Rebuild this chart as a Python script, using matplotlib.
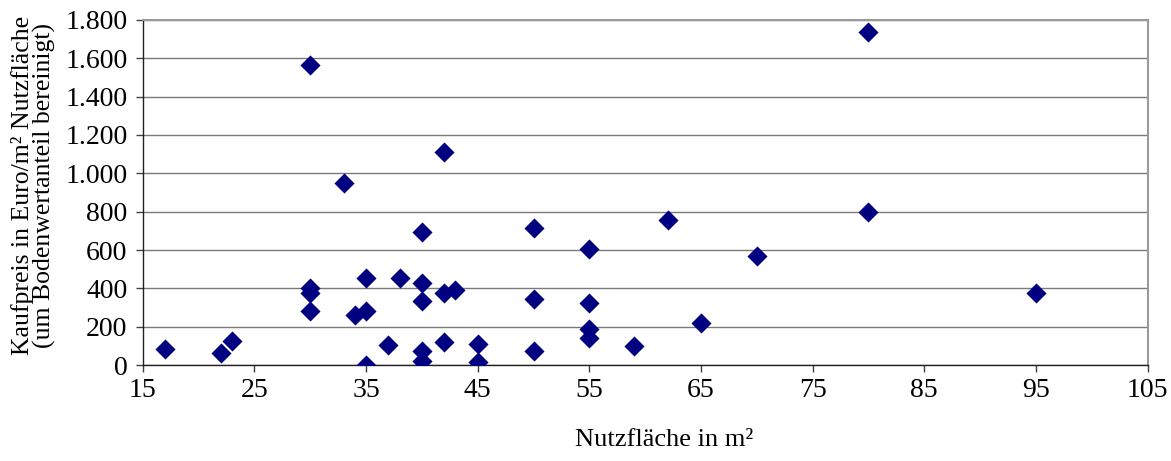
import matplotlib
matplotlib.use("Agg")
import matplotlib.pyplot as plt
from matplotlib.ticker import FuncFormatter

# Nutzfläche (m²) and Kaufpreis (Euro/m²)
flaeche = [17, 22, 23, 30, 30, 30, 30, 33, 34, 35, 35, 35, 37, 38,
           40, 40, 40, 40, 40, 42, 42, 42, 43, 45, 45,
           50, 50, 50, 55, 55, 55, 55, 59, 62, 65, 70, 80, 80, 95]
preis = [84, 64, 127, 1565, 400, 374, 283, 951, 261, 456, 280, 0, 104, 452,
         696, 426, 332, 73, 21, 1110, 377, 118, 391, 108, 17,
         717, 343, 73, 603, 325, 188, 139, 99, 757, 221, 569, 1736, 797, 377]

x_ticks = list(range(15, 106, 10))
y_ticks = list(range(0, 1801, 200))


def de_thousands(v, _pos):
    return f"{int(v):,}".replace(",", ".")


def main():
    plt.rcParams["font.family"] = ["Liberation Serif", "DejaVu Serif"]

    fig = plt.figure(figsize=(11.71, 4.61), dpi=100)
    ax = fig.add_axes([0.122, 0.208, 0.858, 0.749])

    ax.scatter(flaeche, preis, marker="D", s=105, color="#000080",
               zorder=3, linewidths=0)

    ax.set_xlim(15, 105)
    ax.set_ylim(0, 1800)
    ax.set_xticks(x_ticks)
    ax.set_yticks(y_ticks)
    ax.yaxis.set_major_formatter(FuncFormatter(de_thousands))
    ax.tick_params(axis="both", labelsize=20, direction="out", length=5,
                   width=1, color="#404040")
    ax.tick_params(axis="x", pad=4)
    ax.tick_params(axis="y", pad=6)

    ax.grid(axis="y", color="#7a7a7a", linewidth=1)
    ax.set_axisbelow(True)
    for side in ("top", "right"):
        ax.spines[side].set_color("#9a9a9a")
        ax.spines[side].set_linewidth(1.5)
    for side in ("left", "bottom"):
        ax.spines[side].set_color("#202020")
        ax.spines[side].set_linewidth(1)

    ax.set_xlabel("Nutzfläche in m²", fontsize=19, va="center")
    ax.xaxis.set_label_coords(0.519, -0.217)
    ax.set_ylabel("Kaufpreis in Euro/m² Nutzfläche\n(um Bodenwertanteil bereinigt)",
                  fontsize=18.5, linespacing=0.9, va="center")
    ax.yaxis.set_label_coords(-0.109, 0.52)

    fig.savefig("out.png", dpi=100)
    plt.close(fig)


if __name__ == "__main__":
    main()
